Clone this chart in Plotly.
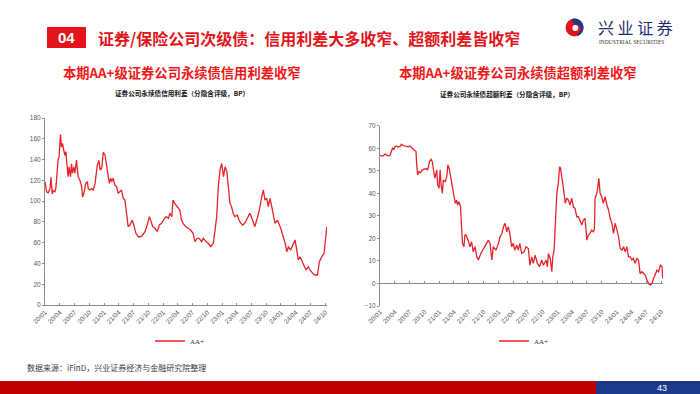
import math
import plotly.graph_objects as go

W, H = 700, 394


def X(px):
    return px / W


def Y(py):
    return 1 - py / H


# ---------------- data ----------------
TICK_LABELS = ["20/01", "20/04", "20/07", "20/10", "21/01", "21/04", "21/07", "21/10",
               "22/01", "22/04", "22/07", "22/10", "23/01", "23/04", "23/07", "23/10",
               "24/01", "24/04", "24/07", "24/10"]

SERIES_NAME = "AA+"

LEFT_DATES = [
    "2020-01-01", "2020-01-11", "2020-01-21", "2020-02-01", "2020-02-07", "2020-02-15", "2020-02-21",
    "2020-03-02", "2020-03-08", "2020-03-16", "2020-03-22", "2020-03-28", "2020-04-06", "2020-04-12",
    "2020-04-18", "2020-04-26", "2020-05-03", "2020-05-09", "2020-05-17", "2020-05-23", "2020-05-29",
    "2020-06-07", "2020-06-13", "2020-06-19", "2020-06-27", "2020-07-04", "2020-07-14", "2020-07-24",
    "2020-08-04", "2020-08-15", "2020-08-21", "2020-08-29", "2020-09-09", "2020-09-19", "2020-09-25",
    "2020-10-05", "2020-10-16", "2020-10-26", "2020-11-06", "2020-11-20", "2020-11-30", "2020-12-07",
    "2020-12-17", "2020-12-27", "2021-01-07", "2021-01-13", "2021-01-21", "2021-01-27", "2021-02-03",
    "2021-02-11", "2021-02-17", "2021-02-26", "2021-03-08", "2021-03-19", "2021-03-29", "2021-04-09",
    "2021-04-19", "2021-04-29", "2021-05-10", "2021-05-20", "2021-05-30", "2021-06-10", "2021-06-24",
    "2021-07-04", "2021-07-17", "2021-07-31", "2021-08-15", "2021-08-28", "2021-09-11", "2021-09-25",
    "2021-10-08", "2021-10-16", "2021-10-29", "2021-11-12", "2021-11-26", "2021-12-09", "2021-12-23",
    "2022-01-03", "2022-01-20", "2022-02-03", "2022-02-13", "2022-02-24", "2022-03-04", "2022-03-14",
    "2022-03-28", "2022-04-15", "2022-04-25", "2022-05-05", "2022-05-22", "2022-06-06", "2022-06-20",
    "2022-07-06", "2022-07-17", "2022-07-31", "2022-08-13", "2022-08-28", "2022-09-07", "2022-09-24",
    "2022-10-08", "2022-10-23", "2022-11-08", "2022-11-19", "2022-11-29", "2022-12-09", "2022-12-20",
    "2022-12-30", "2023-01-10", "2023-01-20", "2023-01-31", "2023-02-09", "2023-02-19", "2023-03-01",
    "2023-03-11", "2023-03-21", "2023-04-05", "2023-04-21", "2023-05-08", "2023-05-22", "2023-06-06",
    "2023-06-22", "2023-07-09", "2023-07-23", "2023-08-07", "2023-08-20", "2023-09-04", "2023-09-14",
    "2023-09-24", "2023-10-05", "2023-10-15", "2023-10-25", "2023-11-05", "2023-11-15", "2023-11-25",
    "2023-12-10", "2023-12-27", "2024-01-12", "2024-01-27", "2024-02-06", "2024-02-16", "2024-03-01",
    "2024-03-14", "2024-03-28", "2024-04-08", "2024-04-17", "2024-04-28", "2024-05-08", "2024-05-23",
    "2024-06-04", "2024-06-18", "2024-06-29", "2024-07-16", "2024-07-30", "2024-08-14", "2024-08-26",
    "2024-09-10", "2024-09-24", "2024-09-30", "2024-10-06", "2024-10-11",
]
LEFT_VALUES = [
    118.7, 109, 108, 112, 123, 107, 110,
    109, 112, 133, 139.6, 142.8, 164, 152,
    155.6, 149, 144, 147.6, 136, 123.5, 133,
    123.5, 136, 127, 133, 127, 139.6, 123.5,
    120, 114, 104, 107.5, 117, 118.7, 112,
    110.7, 112, 110.7, 117, 134.8, 139, 130,
    131.6, 147, 144, 136, 127, 123.5, 117,
    122, 118.7, 122, 115.5, 114, 107.5, 109,
    110.7, 102.7, 101, 88, 75.4, 77, 81.8,
    77, 69, 65.7, 65.7, 67.4, 70.6, 77,
    85, 81.8, 75.4, 73.8, 70.6, 77, 78.6,
    81.8, 85, 83.4, 88.3, 85, 101, 97.9,
    94.6, 91.4, 81.8, 78.6, 75.4, 73.8, 72.2,
    69, 61, 64.2, 64.2, 61, 64.2, 61,
    59.4, 56.1, 59.4, 72.2, 85, 113.9, 130,
    136.4, 123.5, 133, 128.3, 113.9, 97.9, 94.6,
    88.3, 85, 86.6, 80.2, 77, 78.6, 83.4,
    88.3, 81.8, 75.4, 83.4, 91.4, 104.2, 110.7,
    101, 102.7, 94.6, 102.7, 94.6, 85, 78.6,
    81.8, 75.4, 67.4, 59.4, 51.3, 56.1, 52.9,
    57.8, 62.6, 52.9, 43.3, 46.5, 43.3, 38.5,
    33.7, 36.9, 33.7, 30.5, 28.9, 28.9, 41.7,
    46.5, 49.8, 59.4, 67.4, 75.4,
]

RIGHT_DATES = [
    "2020-01-01", "2020-01-11", "2020-01-21", "2020-02-01", "2020-02-11", "2020-02-21", "2020-03-02",
    "2020-03-12", "2020-03-18", "2020-03-26", "2020-04-02", "2020-04-12", "2020-04-22", "2020-05-03",
    "2020-05-13", "2020-05-23", "2020-06-03", "2020-06-13", "2020-06-23", "2020-07-04", "2020-07-14",
    "2020-07-24", "2020-08-04", "2020-08-10", "2020-08-14", "2020-08-20", "2020-08-28", "2020-09-08",
    "2020-09-18", "2020-09-28", "2020-10-11", "2020-10-21", "2020-11-01", "2020-11-11", "2020-11-19",
    "2020-11-29", "2020-12-05", "2020-12-16", "2020-12-22", "2020-12-30", "2021-01-06", "2021-01-12",
    "2021-01-20", "2021-01-26", "2021-02-06", "2021-02-16", "2021-02-23", "2021-03-03", "2021-03-12",
    "2021-03-19", "2021-03-27", "2021-04-03", "2021-04-09", "2021-04-18", "2021-04-24", "2021-05-02",
    "2021-05-12", "2021-05-18", "2021-05-24", "2021-06-02", "2021-06-08", "2021-06-14", "2021-06-28",
    "2021-07-09", "2021-07-19", "2021-07-29", "2021-08-09", "2021-08-20", "2021-08-30", "2021-09-14",
    "2021-09-26", "2021-10-10", "2021-10-21", "2021-10-31", "2021-11-10", "2021-11-21", "2021-11-30",
    "2021-12-17", "2022-01-01", "2022-01-11", "2022-01-22", "2022-02-01", "2022-02-11", "2022-02-21",
    "2022-03-02", "2022-03-12", "2022-03-23", "2022-04-02", "2022-04-12", "2022-04-23", "2022-05-03",
    "2022-05-13", "2022-05-24", "2022-06-08", "2022-06-20", "2022-07-04", "2022-07-14", "2022-07-25",
    "2022-08-04", "2022-08-15", "2022-08-29", "2022-09-11", "2022-09-25", "2022-10-05", "2022-10-22",
    "2022-10-30", "2022-11-05", "2022-11-16", "2022-11-26", "2022-12-02", "2022-12-10", "2022-12-18",
    "2022-12-27", "2023-01-05", "2023-01-13", "2023-01-19", "2023-01-27", "2023-02-07", "2023-02-17",
    "2023-02-26", "2023-03-08", "2023-03-18", "2023-03-29", "2023-04-08", "2023-04-18", "2023-04-29",
    "2023-05-09", "2023-05-19", "2023-05-30", "2023-06-09", "2023-06-19", "2023-06-30", "2023-07-09",
    "2023-07-20", "2023-07-30", "2023-08-10", "2023-08-16", "2023-08-20", "2023-08-31", "2023-09-06",
    "2023-09-12", "2023-09-20", "2023-09-30", "2023-10-10", "2023-10-21", "2023-11-01", "2023-11-11",
    "2023-11-21", "2023-12-02", "2023-12-12", "2023-12-22", "2024-01-02", "2024-01-12", "2024-01-22",
    "2024-02-02", "2024-02-12", "2024-02-22", "2024-03-03", "2024-03-13", "2024-03-24", "2024-04-03",
    "2024-04-13", "2024-04-23", "2024-05-04", "2024-05-14", "2024-05-24", "2024-06-04", "2024-06-14",
    "2024-06-24", "2024-07-05", "2024-07-15", "2024-07-25", "2024-08-05", "2024-08-15", "2024-08-25",
    "2024-09-05", "2024-09-15", "2024-09-26", "2024-10-06", "2024-10-10",
]
RIGHT_VALUES = [
    57.0, 56.6, 56.6, 57.5, 56.9, 56.6, 56.7,
    59.2, 60, 59.5, 60.7, 61, 60.5, 60.7,
    61.8, 61.2, 61, 60.7, 60.6, 61, 60.4,
    59.4, 59.1, 58.5, 53.3, 48.1, 49.6, 49.2,
    50.4, 50.6, 51, 50.4, 54, 55.1, 54,
    48.9, 46.7, 50.4, 43.7, 42.2, 50.4, 43.7,
    40, 45.9, 45.2, 47.4, 52.6, 51.1, 47.4,
    45.2, 41.5, 39.2, 35.6, 37, 34.8, 36.3,
    34, 25.2, 17.8, 16.3, 21.5, 21.5, 19.2,
    16.3, 18.5, 14, 16.3, 11.8, 10.4, 13.3,
    14.8, 17, 18.5, 19.2, 17.8, 10.4, 16.3,
    14.8, 17.8, 20.7, 22.2, 25.2, 26.7, 22.9,
    25.2, 22.2, 16.3, 17.8, 14.8, 17, 14.8,
    17.8, 13.3, 14, 16.3, 15.5, 8.1, 11.8,
    8.9, 12.6, 8.9, 7.4, 10.4, 8.1, 10.4,
    7.4, 13.3, 11.1, 5.2, 11.8, 14.8, 25.2,
    40, 44.4, 51.8, 51.1, 45.9, 41.5, 35.6,
    37.8, 37, 34.8, 37.8, 34, 33.3, 29.6,
    29.6, 28.1, 25.9, 28.1, 28.9, 19.2, 21.5,
    22.2, 23.7, 22.9, 24.4, 37.8, 40, 42.9,
    46.7, 40, 38.5, 35.6, 38.5, 34.8, 32.6,
    28.9, 26.7, 22.2, 26.7, 23.7, 20.7, 15.5,
    14.8, 16.3, 14, 16.3, 11.8, 11.8, 10.4,
    11.1, 8.9, 11.1, 10.4, 4.4, 5.2, 4.4,
    3.7, 1.5, 0, -0.7, 0, 2.2, 3.7,
    5.9, 5.2, 8.1, 7.4, 2.2,
]

LEFT_TITLE = "本期AA+级证券公司永续债信用利差收窄"
RIGHT_TITLE = "本期AA+级证券公司永续债超额利差收窄"
LEFT_SUB = "证券公司永续债信用利差（分隐含评级，BP）"
RIGHT_SUB = "证券公司永续债超额利差（分隐含评级，BP）"
MAIN_TITLE = "证券/保险公司次级债：信用利差大多收窄、超额利差皆收窄"
SOURCE = "数据来源：iFinD，兴业证券经济与金融研究院整理"

# ---------------- style ----------------
CJK = "Noto Sans CJK SC"
RED = "#E3141B"
LINE_RED = "#E8232A"
AX_GRAY = "#8C8C8C"
TXT_GRAY = "#595959"

tickvals = ["20" + t[:2] + "-" + t[3:] + "-01" for t in TICK_LABELS]
XRANGE = ["2020-01-01", "2024-10-12"]

fig = go.Figure()
fig.add_trace(go.Scatter(x=LEFT_DATES, y=LEFT_VALUES, mode="lines", name=SERIES_NAME,
                         line=dict(color=LINE_RED, width=1.3), xaxis="x", yaxis="y",
                         legend="legend2", showlegend=True))
fig.add_trace(go.Scatter(x=RIGHT_DATES, y=RIGHT_VALUES, mode="lines", name=SERIES_NAME,
                         line=dict(color=LINE_RED, width=1.3), xaxis="x2", yaxis="y2",
                         legend="legend3", showlegend=True))
fig.add_trace(go.Scatter(x=[], y=[], xaxis="x3", yaxis="y2", showlegend=False,
                         legend="legend3"))

tickfont = dict(family="Liberation Sans", size=6.5, color=TXT_GRAY)

left_ydom = [Y(305), Y(118)]
right_ydom = [Y(306), Y(125.7)]
r_lo, r_hi = -10, 70
zero_pos = right_ydom[0] + (0 - r_lo) / (r_hi - r_lo) * (right_ydom[1] - right_ydom[0])

legend_style = dict(yanchor="middle", orientation="h", xanchor="left",
                    font=dict(family="Liberation Serif", size=7, color="#333333"),
                    bgcolor="rgba(0,0,0,0)", itemwidth=30, visible=True,
                    borderwidth=0)

fig.update_layout(
    template="none",
    width=W, height=H, autosize=False, showlegend=True,
    margin=dict(l=0, r=0, t=0, b=0, pad=0),
    paper_bgcolor="white", plot_bgcolor="white",
    font=dict(family=CJK, color="#333333"),
    xaxis=dict(domain=[X(45), X(327)], range=XRANGE, type="date", anchor="y",
               tickvals=tickvals, ticktext=TICK_LABELS, tickangle=-45, tickfont=tickfont,
               showline=True, linecolor=AX_GRAY, linewidth=1, ticks="inside", ticklen=2,
               tickcolor=AX_GRAY, showgrid=False, zeroline=False, fixedrange=True,
               automargin=False),
    yaxis=dict(domain=left_ydom, range=[0, 180], dtick=20, anchor="x", tickfont=tickfont,
               showline=True, linecolor=AX_GRAY, linewidth=1, ticks="outside", ticklen=2,
               tickcolor=AX_GRAY, showgrid=False, zeroline=False, fixedrange=True,
               automargin=False),
    xaxis2=dict(domain=[X(380), X(663)], range=XRANGE, type="date", anchor="y2",
                tickvals=tickvals, ticktext=TICK_LABELS, tickangle=-45, tickfont=tickfont,
                showline=False, ticks="", showgrid=False, zeroline=False, fixedrange=True,
                automargin=False),
    xaxis3=dict(domain=[X(380), X(663)], range=XRANGE, type="date", overlaying="x2",
                anchor="free", position=zero_pos, tickvals=tickvals, showticklabels=False,
                showline=False, ticks="inside", ticklen=2, tickcolor=AX_GRAY,
                showgrid=False, zeroline=False, fixedrange=True, automargin=False),
    yaxis2=dict(domain=right_ydom, range=[r_lo, r_hi], dtick=10, anchor="x2", tickfont=tickfont,
                showline=True, linecolor=AX_GRAY, linewidth=1, ticks="outside", ticklen=2,
                tickcolor=AX_GRAY, showgrid=False, zeroline=True, zerolinecolor=AX_GRAY,
                zerolinewidth=1, fixedrange=True, automargin=False),
    legend2=dict(x=X(150), y=Y(341), **legend_style),
    legend3=dict(x=X(494), y=Y(341), **legend_style),
)

shapes = [
    # section badge
    dict(type="rect", xref="paper", yref="paper", x0=X(47), x1=X(86), y0=Y(48), y1=Y(27),
         fillcolor=RED, line=dict(width=0), layer="below"),
    # footer bars
    dict(type="rect", xref="paper", yref="paper", x0=0, x1=X(596), y0=0, y1=Y(381),
         fillcolor="#C00000", line=dict(width=0)),
    dict(type="rect", xref="paper", yref="paper", x0=X(596), x1=1, y0=0, y1=Y(381),
         fillcolor="#1D3A8A", line=dict(width=0)),
]

# logo emblem (decoration)
cx, cy, r = 574.5, 27.5, 9.0
shapes.append(dict(type="circle", xref="paper", yref="paper", x0=X(cx - r), x1=X(cx + r),
                   y0=Y(cy + r), y1=Y(cy - r), fillcolor="#E3141B", line=dict(width=0)))
pts = []
for k in range(0, 19):
    a = math.radians(-70 + k * 10)
    pts.append((cx + r * math.cos(a), cy - r * math.sin(a)))
for k in range(0, 19):
    a = math.radians(110 - k * 10)
    pts.append((cx + 1.5 + 4.6 * math.cos(a), cy + 1.5 - 4.6 * math.sin(a)))
path = "M " + " L ".join(f"{X(px):.5f},{Y(py):.5f}" for px, py in pts) + " Z"
shapes.append(dict(type="path", xref="paper", yref="paper", path=path,
                   fillcolor="#1D3A8A", line=dict(width=0)))
shapes.append(dict(type="circle", xref="paper", yref="paper", x0=X(cx - 2.2), x1=X(cx + 3.8),
                   y0=Y(cy + 3.5), y1=Y(cy - 2.5), fillcolor="white", line=dict(width=0)))
fig.update_layout(shapes=shapes)

ann = [
    dict(x=X(66.5), y=Y(38), text="<b>04</b>", font=dict(family="Liberation Sans", size=15, color="white"),
         xanchor="center", yanchor="middle"),
    dict(x=X(96), y=Y(38), text="<b>" + MAIN_TITLE + "</b>", font=dict(family=CJK, size=16, color=RED),
         xanchor="left", yanchor="middle"),
    dict(x=X(181.5), y=Y(72), text="<b>" + LEFT_TITLE + "</b>", font=dict(family=CJK, size=13.3, color="#F01818"),
         xanchor="center", yanchor="middle"),
    dict(x=X(517.5), y=Y(72.5), text="<b>" + RIGHT_TITLE + "</b>", font=dict(family=CJK, size=13.3, color="#F01818"),
         xanchor="center", yanchor="middle"),
    dict(x=X(182), y=Y(93), text="<b>" + LEFT_SUB + "</b>", font=dict(family=CJK, size=6.6, color="#111111"),
         xanchor="center", yanchor="middle"),
    dict(x=X(507), y=Y(94), text="<b>" + RIGHT_SUB + "</b>", font=dict(family=CJK, size=6.6, color="#111111"),
         xanchor="center", yanchor="middle"),
    dict(x=X(25), y=Y(367), text=SOURCE, font=dict(family=CJK, size=8, color="#404040"),
         xanchor="left", yanchor="middle"),
    dict(x=X(662), y=Y(387.5), text="43", font=dict(family="Liberation Sans", size=9, color="white"),
         xanchor="center", yanchor="middle"),
    dict(x=X(596), y=Y(27), text="兴 业 证 券", font=dict(family=CJK, size=16, color="#1D2F6F"),
         xanchor="left", yanchor="middle"),
    dict(x=X(597), y=Y(42), text="INDUSTRIAL SECURITIES", font=dict(family="Liberation Serif", size=5.5, color="#333333"),
         xanchor="left", yanchor="middle"),
]
for a in ann:
    a.update(xref="paper", yref="paper", showarrow=False)
fig.update_layout(annotations=ann)

fig.write_html("out.html", config={"displayModeBar": False},
               post_script="document.body.style.margin='0';document.body.style.overflow='hidden';")
